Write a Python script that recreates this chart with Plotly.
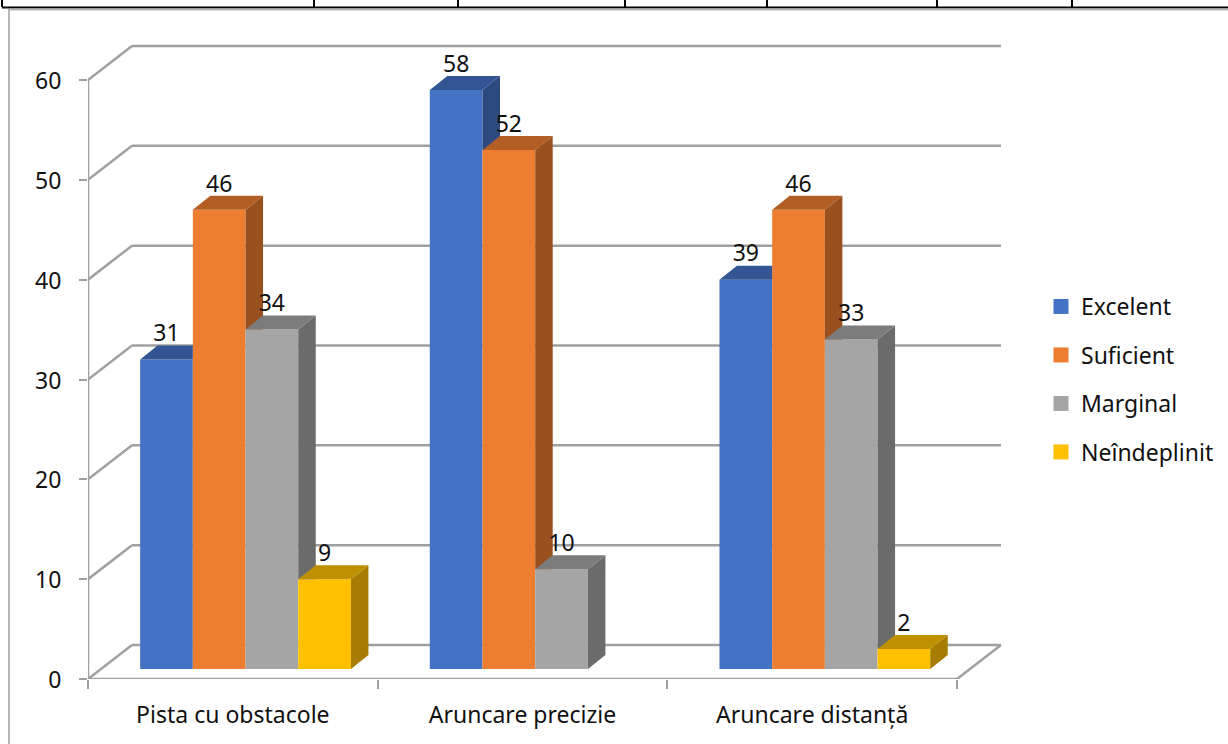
import plotly.graph_objects as go

# Chart data
categories = ["Pista cu obstacole", "Aruncare precizie", "Aruncare distanță"]
series_names = ["Excelent", "Suficient", "Marginal", "Neîndeplinit"]
excelent = [31, 58, 39]
suficient = [46, 52, 46]
marginal = [34, 10, 33]
neindeplinit = [9, None, 2]
y_ticks = [0, 10, 20, 30, 40, 50, 60]

# Face colours per series
front_colors = ["#4472C4", "#ED7D31", "#A5A5A5", "#FFC000"]
top_colors = ["#335593", "#B25E25", "#7C7C7C", "#BF9000"]
side_colors = ["#2C4A7F", "#9A5120", "#6B6B6B", "#A67D00"]
all_series = [excelent, suficient, marginal, neindeplinit]

# Page layout in pixels
W, H = 1228, 744
PLOT_L, PLOT_R, PLOT_T, PLOT_B = 88, 1010, 37, 679
PX_PER_CAT = 289.67
PX_PER_UNIT = 9.983

# 3D projection, expressed in axis units
WALL_DX, WALL_DY = 44 / PX_PER_CAT, 34 / PX_PER_UNIT
BAR_DX, BAR_DY = 17.5 / PX_PER_CAT, 14 / PX_PER_UNIT
BASE_Y = 10 / PX_PER_UNIT
BAR_W = 52.7 / PX_PER_CAT
SHIFT_X = 12.7 / PX_PER_CAT
LABEL_GAP = 24 / PX_PER_UNIT

GRID = "#A0A0A0"
FONT = "Noto Sans"
FONT_SIZE = 23
TEXT = "#111111"


def clip_above(poly, level):
    """Keep the part of a polygon lying at or above a y level."""
    out = []
    for i, (x0, y0) in enumerate(poly):
        x1, y1 = poly[(i + 1) % len(poly)]
        if y0 >= level:
            out.append((x0, y0))
        if (y0 >= level) != (y1 >= level):
            t = (level - y0) / (y1 - y0)
            out.append((x0 + t * (x1 - x0), level))
    return out


def clip_left(poly, limit):
    """Keep the part of a polygon lying left of an x limit."""
    out = []
    for i, (x0, y0) in enumerate(poly):
        x1, y1 = poly[(i + 1) % len(poly)]
        if x0 <= limit:
            out.append((x0, y0))
        if (x0 <= limit) != (x1 <= limit):
            t = (limit - x0) / (x1 - x0)
            out.append((limit, y0 + t * (y1 - y0)))
    return out


def face(poly, color):
    xs = [p[0] for p in poly] + [poly[0][0]]
    ys = [p[1] for p in poly] + [poly[0][1]]
    return go.Scatter(x=xs, y=ys, mode="lines", fill="toself", fillcolor=color,
                      line=dict(width=0, color=color), hoverinfo="skip",
                      showlegend=False)


fig = go.Figure()


def bar_left(cat, s):
    return cat + 0.5 + SHIFT_X + (s - 2) * BAR_W


# Front faces
for s, values in enumerate(all_series):
    fig.add_trace(go.Bar(
        x=[bar_left(c, s) + BAR_W / 2 for c in range(len(categories))],
        y=values, base=BASE_Y, width=BAR_W, name=series_names[s],
        marker=dict(color=front_colors[s], line=dict(width=0)),
        legendgroup=series_names[s], showlegend=False))

# Top and side faces, with whatever the next bar hides cut away
for c in range(len(categories)):
    for s, values in enumerate(all_series):
        v = values[c]
        if v is None:
            continue
        xl = bar_left(c, s)
        xr = xl + BAR_W
        yt = BASE_Y + v
        nxt = all_series[s + 1][c] if s + 1 < len(all_series) else None
        yn = BASE_Y + nxt if nxt is not None else None

        side = [(xr, BASE_Y), (xr + BAR_DX, BASE_Y + BAR_DY),
                (xr + BAR_DX, yt + BAR_DY), (xr, yt)]
        if yn is not None:
            side = clip_above(side, yn)
        if len(side) > 2:
            fig.add_trace(face(side, side_colors[s]))

        top = [(xl, yt), (xr, yt), (xr + BAR_DX, yt + BAR_DY), (xl + BAR_DX, yt + BAR_DY)]
        if yn is not None and yn > yt:
            top = clip_left(top, xr)
        fig.add_trace(face(top, top_colors[s]))

# Value labels
for s, values in enumerate(all_series):
    pts = [(bar_left(c, s) + BAR_W / 2, v) for c, v in enumerate(values) if v is not None]
    fig.add_trace(go.Scatter(
        x=[p[0] for p in pts], y=[BASE_Y + p[1] + LABEL_GAP for p in pts],
        mode="text", text=[str(p[1]) for p in pts], textposition="middle center",
        textfont=dict(family=FONT, size=FONT_SIZE, color=TEXT),
        hoverinfo="skip", showlegend=False))

# Legend entries with larger square keys
for s, name in enumerate(series_names):
    fig.add_trace(go.Scatter(
        x=[None], y=[None], mode="markers", name=name, legendgroup=name,
        marker=dict(symbol="square", size=15, color=front_colors[s]),
        hoverinfo="skip"))

n_cat = len(categories)
shapes = []


def grid_line(x0, y0, x1, y1, color=GRID, width=2.5):
    shapes.append(dict(type="line", xref="x", yref="y", x0=x0, y0=y0, x1=x1, y1=y1,
                       line=dict(color=color, width=width), layer="below"))


# Walls and floor of the 3D box
for t in y_ticks:
    grid_line(0, t, WALL_DX, t + WALL_DY)
    grid_line(WALL_DX, t + WALL_DY, n_cat + WALL_DX, t + WALL_DY)
grid_line(0, y_ticks[0], 0, y_ticks[-1])
grid_line(0, y_ticks[0], n_cat, y_ticks[0])
grid_line(n_cat, y_ticks[0], n_cat + WALL_DX, y_ticks[0] + WALL_DY)

plot_w = PLOT_R - PLOT_L
plot_h = PLOT_B - PLOT_T


def page_line(x0, y0, x1, y1, color, width):
    shapes.append(dict(
        type="line", xref="paper", yref="paper",
        x0=(x0 - PLOT_L) / plot_w, x1=(x1 - PLOT_L) / plot_w,
        y0=(PLOT_B - y0) / plot_h, y1=(PLOT_B - y1) / plot_h,
        line=dict(color=color, width=width), layer="above"))


# Surrounding table rules and chart frame
for x in [2, 314, 458, 625, 767, 937, 1072]:
    page_line(x, 0, x, 7, "#000000", 2)
page_line(2, 7.5, W, 7.5, "#000000", 2)
page_line(9, 9.5, W, 9.5, "#B5B5B5", 2)
page_line(9, 9, 9, H, "#B5B5B5", 2)

fig.update_layout(
    width=W, height=H,
    margin=dict(l=PLOT_L, r=W - PLOT_R, t=PLOT_T, b=H - PLOT_B, pad=0, autoexpand=False),
    paper_bgcolor="white", plot_bgcolor="white",
    barmode="overlay",
    font=dict(family=FONT, size=FONT_SIZE, color=TEXT),
    shapes=shapes,
    legend=dict(
        x=(1041 - PLOT_L) / plot_w, y=(PLOT_B - 285) / plot_h,
        xanchor="left", yanchor="top", bgcolor="rgba(0,0,0,0)",
        tracegroupgap=15.6, itemsizing="trace",
        font=dict(family=FONT, size=FONT_SIZE, color=TEXT)),
    xaxis=dict(
        range=[0, plot_w / PX_PER_CAT], tickmode="array",
        tickvals=[c + 0.5 for c in range(n_cat)], ticktext=categories,
        ticks="", showgrid=False, zeroline=False, showline=False,
        ticklabelstandoff=20,
        minor=dict(tickmode="array", tickvals=list(range(n_cat + 1)), ticks="outside",
                   ticklen=9, tickwidth=1.5, tickcolor=GRID, showgrid=False)),
    yaxis=dict(
        range=[0, plot_h / PX_PER_UNIT], tickmode="array", tickvals=y_ticks,
        ticks="outside", ticklen=8, tickwidth=1.5, tickcolor=GRID,
        showgrid=False, zeroline=False, showline=False, ticklabelstandoff=13,
        ticklabelshift=1),
)

fig.write_html("out.html")
